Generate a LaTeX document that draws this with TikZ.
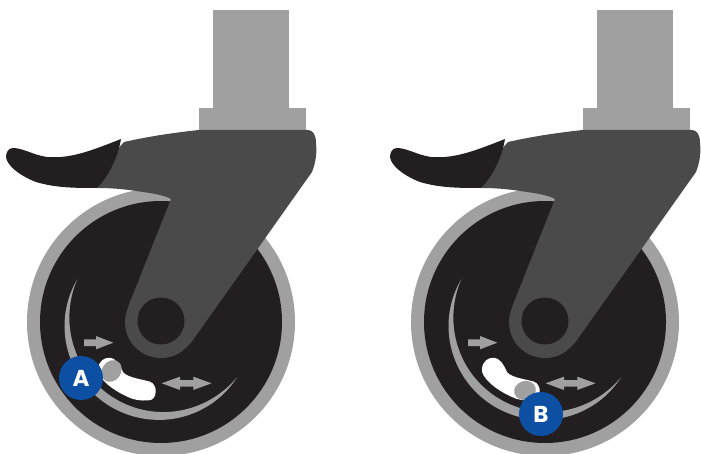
\documentclass[tikz,border=0pt]{standalone}
\usepackage{fontspec}
\setmainfont{Poppins}
\definecolor{cgray}{HTML}{A0A0A0}
\definecolor{cfork}{HTML}{4A4A4A}
\definecolor{cblack}{HTML}{231F20}
\definecolor{cblue}{HTML}{0C4FA3}
\tikzset{
  badge/.style={circle,fill=cblue,minimum size=44pt,inner sep=0pt,text=white,font=\fontsize{23}{23}\selectfont\bfseries},
  declare function={wd(\a)=1-((\a-121.5)/85.5)*((\a-121.5)/85.5);}
}
\newcommand{\caster}{%
  % stem and collar (origin at wheel centre)
  \fill[cgray] (52,-312) rectangle (128,-214);
  \fill[cgray] (38,-214) rectangle (145,-192);
  % wheel
  \fill[cgray] (0,0) circle (134);
  \fill[cblack] (0,0) circle (121);
  % crescent
  \fill[cgray] plot[domain=36:207,samples=70] ({(94+4.5*wd(\x))*cos(\x)},{(94+4.5*wd(\x))*sin(\x)})
     -- plot[domain=207:36,samples=70] ({(94-4.6*wd(\x))*cos(\x)},{(94-4.6*wd(\x))*sin(\x)}) -- cycle;
  % slot
  \fill[white] (-63,46.5) .. controls (-62,39) and (-57,35.5) .. (-51,35.8)
     .. controls (-46,36) and (-42,41) .. (-37.7,50.5)
     .. controls (-32,56) and (-20,57) .. (-11,59.7)
     .. controls (-7,61) and (-5,66) .. (-5.3,69.7)
     .. controls (-5.5,75) and (-8,78) .. (-12,78.3)
     .. controls (-20,79) and (-27,78) .. (-33,75)
     .. controls (-42,71) and (-50,66) .. (-56,60)
     .. controls (-60,56) and (-64,51) .. (-63,46.5) -- cycle;
  % arrows
  \fill[cgray] (-77,17.3) -- (-65,17.3) -- (-65,14) -- (-47.7,20.7) -- (-65,27.3) -- (-65,24) -- (-77,24) -- cycle;
  \fill[cgray] (0.7,61.3) -- (19,54.7) -- (19,58) -- (32.3,58) -- (32.3,54.7) -- (50.5,61.3) -- (32.3,68) -- (32.3,64.7) -- (19,64.7) -- (19,68) -- cycle;
  % fork
  \fill[cfork] (-46,-170) -- (-37,-180) .. controls (-15,-185) and (10,-189) .. (38,-192) -- (147,-192)
     .. controls (152,-192) and (155,-187) .. (155,-179)
     .. controls (156,-170) and (155,-160) .. (151,-150)
     -- (32,18)
     .. controls (22,31) and (12,36) .. (0,36)
     .. controls (-20,36) and (-36,20) .. (-36,0)
     .. controls (-36,-6) and (-34,-12) .. (-31,-20)
     -- (10,-123)
     .. controls (3,-127) and (-10,-129) .. (-25,-131)
     .. controls (-38,-133) and (-50,-134) .. (-64,-134) -- cycle;
  % hub
  \fill[cblack] (0,-1) circle (23.5);
  % handle
  \fill[cblack] (-40,-183) .. controls (-68,-172) and (-90,-163) .. (-114,-165)
     .. controls (-128,-167) and (-138,-174) .. (-148,-174)
     .. controls (-153,-174) and (-155,-169) .. (-155,-165)
     .. controls (-154,-157) and (-143,-147) .. (-125,-140)
     .. controls (-105,-134) and (-85,-134) .. (-64,-134)
     .. controls (-52,-146) and (-43,-165) .. (-40,-183) -- cycle;
}
\begin{document}
\begin{tikzpicture}[x=1pt,y=-1pt]
\useasboundingbox (0,0) rectangle (701,454);
\begin{scope}[shift={(161,322)}]
  \caster
  \fill[cgray,rotate around={55:(-49.5,49)}] (-49.5,49) ellipse (11.5 and 9.5);
  \node[badge] (a) at (-80,56) {A};
\end{scope}
\begin{scope}[shift={(545,322)}]
  \caster
  \fill[cgray,rotate around={15:(-20,68.5)}] (-20,68.5) ellipse (11 and 9.5);
  \node[badge] (b) at (-4,92) {B};
\end{scope}
\end{tikzpicture}
\end{document}
